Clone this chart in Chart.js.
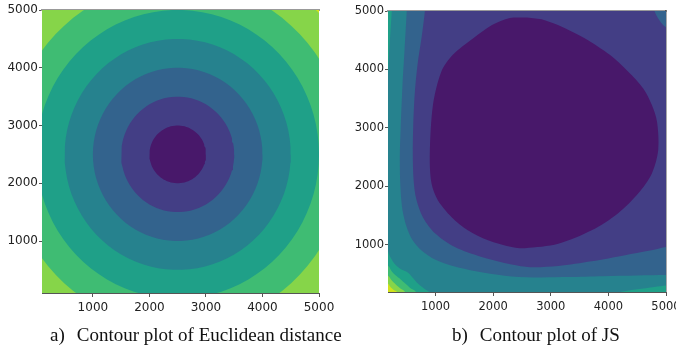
<!DOCTYPE html>
<html>
<head>
<meta charset="utf-8">
<script src="https://cdn.jsdelivr.net/npm/chart.js@4/dist/chart.umd.min.js"></script>
<style>
  body { margin: 0; background: #fff; width: 676px; height: 349px; overflow: hidden; position: relative; }
  canvas { position: absolute; top: 0; }
  #euc { left: 0; }
  #js { left: 340px; }
  .cap { position: absolute; top: 325px; font-family: "Liberation Serif", serif; font-size: 19px; line-height: 19px; color: #111; white-space: nowrap; }
  .cap span { margin-left: 12px; }
</style>
</head>
<body>
<canvas id="euc" width="340" height="349"></canvas>
<canvas id="js" width="350" height="349"></canvas>
<div class="cap" style="left:50px">a)<span>Contour plot of Euclidean distance</span></div>
<div class="cap" style="left:452px">b)<span>Contour plot of JS</span></div>
<script>
  // viridis band colours, lowest band first
  const bandColors = ['#48186a', '#433e85', '#33638d', '#26828e', '#1fa088', '#3fbc73', '#86d549', '#d2e21b'];
  const xTicks = [1000, 2000, 3000, 4000, 5000];
  const yTicks = [1000, 2000, 3000, 4000, 5000];

  // a) distance from the centre point, one band per 500
  const eucCentre = { x: 2500, y: 2500 };
  const eucLevels = [500, 1000, 1500, 2000, 2500, 3000, 3500];

  // b) JS contour regions, innermost first [x, y]
  const jsBand0 = [[2590,4890],[2290,4880],[1980,4760],[1650,4530],[1300,4250],[1100,3960],[955,3390],[900,2530],[930,2050],[1040,1760],[1280,1470],[1560,1245],[1910,1075],[2320,960],[2550,940],[3130,1015],[3710,1245],[4170,1540],[4520,1880],[4755,2220],[4865,2620],[4845,3100],[4755,3390],[4605,3675],[4345,3960],[4030,4245],[3595,4530],[3125,4760],[2840,4860]];
  const jsBand1 = [[830,5300],[815,5000],[757,4540],[690,4100],[640,3600],[612,3000],[605,2530],[620,2100],[665,1780],[780,1470],[990,1195],[1335,960],[1800,790],[2320,660],[2640,615],[3130,635],[3710,715],[4290,820],[4700,895],[5000,960],[5300,1010],[5300,4690],[5000,4720],[4800,5000],[4780,5300]];
  const jsBand2 = [[510,5300],[500,5000],[460,4300],[425,3700],[395,3000],[380,2500],[390,2000],[425,1600],[500,1300],[600,1080],[757,900],[1000,740],[1300,635],[1700,545],[2200,470],[2700,440],[3300,445],[3900,460],[4500,472],[5000,480],[5300,485],[5300,5300]];
  const jsBand3 = [[250,5300],[240,5000],[215,4600],[190,4200],[172,3800],[165,3000],[166,2000],[170,1200],[175,900],[220,780],[300,660],[400,580],[518,525],[600,440],[700,330],[800,250],[900,190],[1000,130],[2500,100],[3800,140],[4205,190],[4500,235],[4800,275],[5000,300],[5300,340],[5300,5300]];
  const jsBand4 = [[-100,680],[175,640],[230,560],[300,480],[396,405],[480,330],[560,260],[660,190],[700,-100],[5300,-100],[5300,5300],[-100,5300]];
  const jsBand5 = [[-100,500],[175,470],[230,400],[310,319],[390,250],[470,190],[490,-100],[5300,-100],[5300,5300],[-100,5300]];
  const jsBand6 = [[-100,350],[175,330],[210,285],[250,245],[290,215],[330,190],[340,-100],[5300,-100],[5300,5300],[-100,5300]];
  const jsBands = [jsBand0, jsBand1, jsBand2, jsBand3, jsBand4, jsBand5, jsBand6];

  // contour of the distance field at one level is a circle round the centre
  function levelRing(level) {
    const pts = [];
    for (let a = 0; a <= 360; a += 4) {
      const t = a * Math.PI / 180;
      pts.push({ x: eucCentre.x + level * Math.cos(t), y: eucCentre.y + level * Math.sin(t) });
    }
    return pts;
  }

  // paint the top band under everything
  const areaBg = {
    id: 'areaBg',
    beforeDatasetsDraw(chart, args, opts) {
      const a = chart.chartArea;
      chart.ctx.save();
      chart.ctx.fillStyle = opts.color;
      chart.ctx.fillRect(a.left, a.top, a.width, a.height);
      chart.ctx.restore();
    }
  };

  function axes(xMin, yMin, yWidth, fontSize, rightBorder) {
    const font = { family: 'DejaVu Sans', size: fontSize };
    const scales = {
      x: {
        type: 'linear', min: xMin, max: 5000, z: 1,
        afterBuildTicks: s => { s.ticks = xTicks.map(v => ({ value: v })); },
        afterFit: s => { s.height = 20; },
        ticks: { color: '#222', font, padding: 4, maxRotation: 0, callback: v => String(v) },
        grid: { drawOnChartArea: false, tickLength: 4, color: '#555' },
        border: { color: '#555', width: 1 }
      },
      y: {
        type: 'linear', min: yMin, max: 5000, z: 1,
        afterBuildTicks: s => { s.ticks = yTicks.map(v => ({ value: v })); },
        afterFit: s => { s.width = yWidth; },
        ticks: { color: '#222', font, padding: 1, callback: v => String(v) },
        grid: { drawOnChartArea: false, tickLength: 3, color: '#555' },
        border: { color: '#555', width: 1 }
      },
      xTop: {
        type: 'linear', position: 'top', z: 1,
        ticks: { display: false }, grid: { display: false, drawTicks: false },
        border: { color: '#999', width: 2 },
        afterFit: s => { s.height = 0; }
      }
    };
    if (rightBorder) {
      scales.yRight = {
        type: 'linear', position: 'right', z: 1,
        ticks: { display: false }, grid: { display: false, drawTicks: false },
        border: { color: '#555', width: 1.5 },
        afterFit: s => { s.width = 0; }
      };
    }
    return scales;
  }

  function filledShape(points, i, tension) {
    return {
      label: 'band ' + i,
      data: points,
      showLine: true,
      fill: 'shape',
      backgroundColor: bandColors[i],
      borderColor: 'rgba(0,0,0,0)',
      borderWidth: 0,
      pointRadius: 0,
      tension: tension,
      clip: 0
    };
  }

  const common = {
    responsive: false,
    animation: false,
    events: [],
    plugins: { legend: { display: false }, tooltip: { enabled: false }, areaBg: { color: bandColors[7] } }
  };

  // a) Euclidean distance (smallest ring has index 0, so it is drawn last)
  new Chart(document.getElementById('euc'), {
    type: 'scatter',
    data: { datasets: eucLevels.map((lvl, i) => filledShape(levelRing(lvl), i, 0)) },
    options: Object.assign({}, common, {
      layout: { padding: { top: 10, right: 21, bottom: 36, left: 0 } },
      scales: axes(100, 100, 42, 12, false)
    }),
    plugins: [areaBg]
  });

  // b) JS
  new Chart(document.getElementById('js'), {
    type: 'scatter',
    data: { datasets: jsBands.map((pts, i) => filledShape(pts.map(([x, y]) => ({ x, y })), i, 0.3)) },
    options: Object.assign({}, common, {
      layout: { padding: { top: 11, right: 24, bottom: 37, left: 0 } },
      scales: axes(175, 190, 48, 11.5, true)
    }),
    plugins: [areaBg]
  });
</script>
</body>
</html>
